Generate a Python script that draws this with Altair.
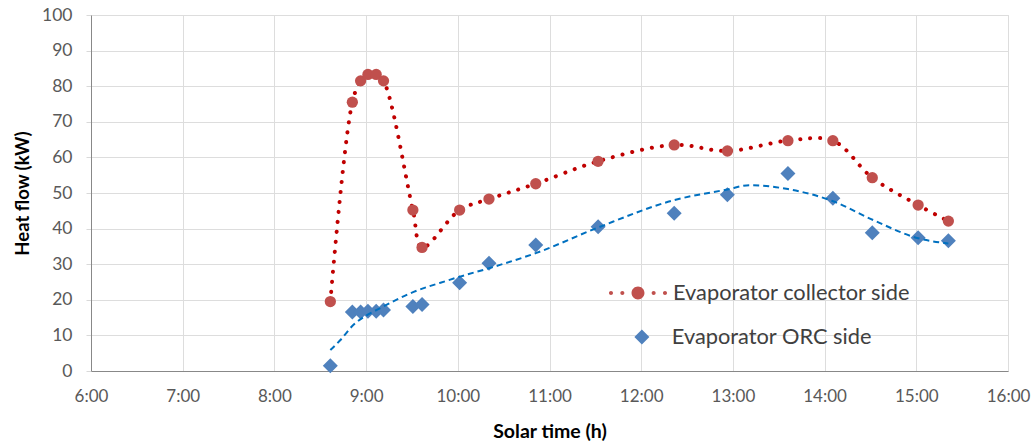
import altair as alt
import pandas as pd

# ---- data ----
time_h = [8.61, 8.85, 8.94, 9.02, 9.11, 9.19, 9.51, 9.61, 10.02, 10.34, 10.85,
          11.53, 12.36, 12.94, 13.60, 14.09, 14.52, 15.02, 15.35]
collector_kw = [19.5, 75.5, 81.5, 83.3, 83.3, 81.5, 45.2, 34.7, 45.2, 48.3, 52.6,
                58.9, 63.5, 61.8, 64.7, 64.7, 54.3, 46.6, 42.1]
orc_kw = [1.5, 16.6, 16.6, 16.8, 16.8, 17.1, 18.1, 18.7, 24.8, 30.3, 35.4,
          40.5, 44.3, 49.5, 55.5, 48.5, 38.8, 37.4, 36.6]
trend_time = [8.61, 8.72, 8.86, 9.01, 9.15, 9.48, 9.91, 10.46, 10.85, 11.53,
              12.36, 12.94, 13.18, 13.60, 14.10, 14.53, 15.02, 15.35]
trend_kw = [5.9, 8.7, 12.9, 15.7, 17.6, 21.8, 25.6, 29.8, 33.1, 40.3,
            48.0, 51.0, 52.2, 51.1, 47.6, 42.4, 37.3, 35.8]
x_ticks = [6, 7, 8, 9, 10, 11, 12, 13, 14, 15, 16]
y_ticks = [0, 10, 20, 30, 40, 50, 60, 70, 80, 90, 100]
series_names = ["Evaporator collector side", "Evaporator ORC side"]

FONT = "Lato"

df_col = pd.DataFrame({"t": time_h, "v": collector_kw, "s1": series_names[0]})
df_orc = pd.DataFrame({"t": time_h, "v": orc_kw, "s2": series_names[1]})
df_trend = pd.DataFrame({"t": trend_time, "v": trend_kw})

x_scale = alt.Scale(domain=[6, 16], nice=False, zero=False)
y_scale = alt.Scale(domain=[0, 100], nice=False)

x_axis = alt.Axis(
    title="Solar time (h)", values=x_ticks, labelExpr="floor(datum.value) + ':00'",
    grid=True, ticks=False, tickSize=0, labelPadding=17, titlePadding=18,
    labelFlush=False, labelOverlap=False,
    labelFont=FONT, labelFontSize=17, labelColor="#595959",
    titleFont=FONT, titleFontSize=19.5, titleFontWeight="bold", titleColor="#000000",
)
y_axis = alt.Axis(
    title="Heat flow (kW)", values=y_ticks, grid=True, ticks=True, tickSize=5,
    tickColor="#D9D9D9", labelPadding=14, titlePadding=9,
    labelFlush=False, labelOverlap=False,
    labelFont=FONT, labelFontSize=17.5, labelColor="#595959",
    titleFont=FONT, titleFontSize=18.5, titleFontWeight="bold", titleColor="#000000",
)

X = alt.X("t:Q", scale=x_scale, axis=x_axis)
Y = alt.Y("v:Q", scale=y_scale, axis=y_axis)

red_line = alt.Chart(df_col).mark_line(
    color="#C00000", strokeWidth=4, strokeDash=[0.1, 9.9], strokeCap="round",
    interpolate="catmull-rom",
).encode(x=X, y=Y)


def dot(cx, r):
    return (f"M{cx - r},0A{r},{r} 0 1,0 {cx + r},0A{r},{r} 0 1,0 {cx - r},0Z")


legend_path = " ".join([dot(-1.0, 0.075), dot(-0.58, 0.075), dot(0, 0.24),
                        dot(0.58, 0.075), dot(1.0, 0.075)])

red_pts = alt.Chart(df_col).mark_point(
    filled=True, size=127, opacity=1, strokeWidth=0,
).encode(
    x=X, y=Y,
    color=alt.Color("s1:N", scale=alt.Scale(domain=[series_names[0]], range=["#C0504D"]),
                    legend=alt.Legend(title=None, orient="none", legendX=520, legendY=251,
                                      symbolType=legend_path, symbolSize=2916,
                                      symbolStrokeWidth=0, padding=0, labelLimit=500,
                                      labelFont=FONT, labelFontSize=21.8,
                                      labelColor="#404040", labelOffset=8)),
)

blue_pts = alt.Chart(df_orc).mark_point(
    filled=True, size=225, opacity=1, color="#4F81BD", strokeWidth=0,
).encode(
    x=X, y=Y,
    shape=alt.Shape("s2:N", scale=alt.Scale(domain=[series_names[1]], range=["diamond"]),
                    legend=alt.Legend(title=None, orient="none", legendX=540, legendY=311,
                                      symbolSize=225, symbolFillColor="#4F81BD",
                                      symbolStrokeWidth=0, padding=0, labelLimit=500,
                                      labelFont=FONT, labelFontSize=21.8,
                                      labelColor="#404040", labelOffset=19)),
)

trend = alt.Chart(df_trend).mark_line(
    color="#0070C0", strokeWidth=2, strokeDash=[6, 4], interpolate="monotone",
).encode(x=X, y=Y)

chart = alt.layer(red_line, red_pts, blue_pts, trend).resolve_legend(
    color="independent", shape="independent"
).properties(
    width=917, height=356,
    autosize=alt.AutoSizeParams(type="none"),
    padding={"left": 91, "top": 15, "right": 27, "bottom": 76},
).configure_view(stroke=None).configure_axis(
    gridColor="#D9D9D9", gridWidth=1, domainColor="#BFBFBF", domainWidth=1,
).configure(background="white")

chart.save("out.html", embed_options={"renderer": "svg", "actions": False})
